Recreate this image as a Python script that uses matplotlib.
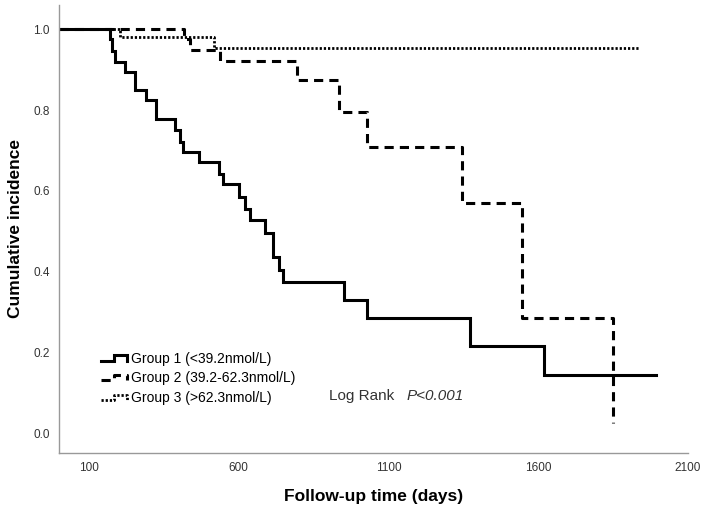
import numpy as np
import matplotlib
matplotlib.use('Agg')
import matplotlib.pyplot as plt
from matplotlib.legend_handler import HandlerBase
from matplotlib.lines import Line2D

plt.rcParams['font.family'] = ['Liberation Sans', 'DejaVu Sans']

# step curves (days, cumulative value)
t1 = [0, 170, 178, 187, 221, 254, 290, 323, 388, 405, 414, 468, 533, 547,
      600, 622, 639, 689, 715, 733, 747, 951, 1029, 1372, 1619, 1993]
s1 = [1.0, 0.975, 0.947, 0.920, 0.895, 0.851, 0.826, 0.779, 0.750, 0.721,
      0.697, 0.672, 0.643, 0.618, 0.585, 0.556, 0.527, 0.497, 0.436, 0.405,
      0.374, 0.331, 0.286, 0.215, 0.1455, 0.1455]

t2 = [0, 418, 438, 538, 796, 936, 1027, 1347, 1547, 1848]
s2 = [1.0, 0.975, 0.950, 0.921, 0.874, 0.796, 0.709, 0.569, 0.286, 0.025]

t3 = [0, 204, 516, 1937]
s3 = [1.0, 0.982, 0.953, 0.953]

labels = ['Group 1 (<39.2nmol/L)', 'Group 2 (39.2-62.3nmol/L)', 'Group 3 (>62.3nmol/L)']
xticks = [100, 600, 1100, 1600, 2100]
yticks = [0.0, 0.2, 0.4, 0.6, 0.8, 1.0]


class StepHandler(HandlerBase):
    # SPSS style little step icon in the legend
    def create_artists(self, legend, orig_handle, xdescent, ydescent,
                       width, height, fontsize, trans):
        xs = np.array([0, 0.5, 0.5, 1.0, 1.0]) * width - xdescent
        ys = np.array([0.2, 0.2, 0.75, 0.75, 0.2]) * height - ydescent
        line = Line2D(xs, ys)
        line.update_from(orig_handle)
        line.set_transform(trans)
        return [line]


fig = plt.figure(figsize=(7.04, 5.12), dpi=100)
ax = fig.add_axes([0.0838, 0.1158, 0.8935, 0.8742])

l1, = ax.step(t1, s1, where='post', color='black', lw=2.2, solid_joinstyle='miter')
l2, = ax.step(t2, s2, where='post', color='black', lw=2.2, linestyle=(0, (3, 2)))
l3, = ax.step(t3, s3, where='post', color='black', lw=2.0, linestyle=(0, (0.8, 0.7)))

ax.set_xlim(0, 2100)
ax.set_ylim(-0.048, 1.06)
ax.set_xticks(xticks)
ax.set_yticks(yticks)
ax.set_yticklabels(['%.1f' % v for v in yticks])
ax.tick_params(length=0, labelsize=8.5, labelcolor='#333333', pad=6.5)

for side in ['top', 'right']:
    ax.spines[side].set_visible(False)
for side in ['left', 'bottom']:
    ax.spines[side].set_color('#999999')
    ax.spines[side].set_linewidth(1.0)

ax.set_xlabel('Follow-up time (days)', fontsize=12.5, fontweight='bold')
ax.set_ylabel('Cumulative incidence', fontsize=12.5, fontweight='bold')
ax.xaxis.set_label_coords(0.5, -0.081)
ax.yaxis.set_label_coords(-0.058, 0.5)

ax.legend([l1, l2, l3], labels, handler_map={Line2D: StepHandler()},
          loc='upper left', bbox_to_anchor=(0.066, 0.226), frameon=False,
          fontsize=10, handlelength=1.94, handletextpad=0.29,
          labelspacing=0.42, borderpad=0, borderaxespad=0)

ax.text(900, 0.092, 'Log Rank', fontsize=11, color='#333333', va='center')
ax.text(1159, 0.092, 'P<0.001', fontsize=11, color='#333333', va='center',
        style='italic')

fig.savefig('out.png', dpi=100)
